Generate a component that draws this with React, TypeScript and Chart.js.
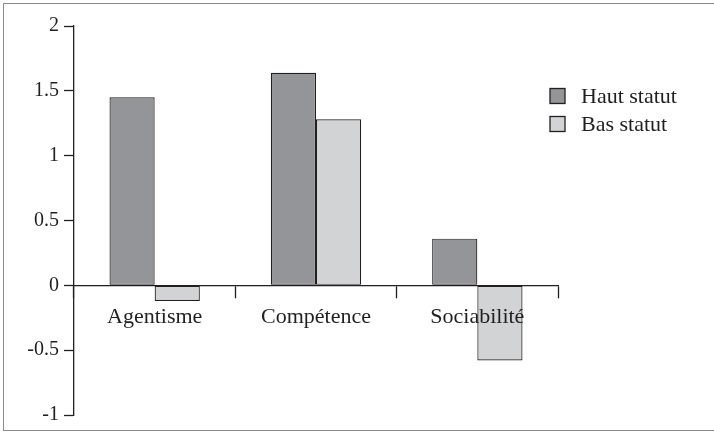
import React, { useEffect, useRef } from "react";
import { Chart, registerables } from "chart.js";

Chart.register(...registerables);

const categories = ["Agentisme", "Compétence", "Sociabilité"];
const hautStatut = [1.45, 1.64, 0.36];
const basStatut = [-0.12, 1.28, -0.58];
const seriesNames = ["Haut statut", "Bas statut"];
const yTicks = [-1, -0.5, 0, 0.5, 1, 1.5, 2];

const FONT = "'Liberation Serif', 'DejaVu Serif', serif";
const INK = "#231f20";

const legendPlugin = {
  id: "customLegend",
  afterDraw(chart: any) {
    const ctx = chart.ctx;
    ctx.save();
    const x0 = 550;
    const ys = [96, 124];
    chart.data.datasets.forEach((ds: any, i: number) => {
      const y = ys[i];
      ctx.fillStyle = ds.backgroundColor;
      ctx.fillRect(x0, y - 7.5, 15, 15);
      ctx.strokeStyle = INK;
      ctx.lineWidth = 1.3;
      ctx.strokeRect(x0, y - 7.5, 15, 15);
      ctx.fillStyle = INK;
      ctx.font = `22px ${FONT}`;
      ctx.textBaseline = "middle";
      ctx.textAlign = "left";
      ctx.fillText(ds.label, 581, y + 1);
    });
    ctx.restore();
  },
};

export default function App() {
  const ref = useRef<HTMLCanvasElement>(null);
  useEffect(() => {
    if (!ref.current) return;
    const chart = new Chart(ref.current, {
      type: "bar",
      data: {
        labels: categories,
        datasets: [
          {
            label: seriesNames[0],
            data: hautStatut,
            backgroundColor: "#939598",
            borderColor: INK,
            borderWidth: 1.2,
            borderSkipped: false,
          },
          {
            label: seriesNames[1],
            data: basStatut,
            backgroundColor: "#d1d3d4",
            borderColor: INK,
            borderWidth: 1.2,
            borderSkipped: false,
          },
        ],
      },
      options: {
        animation: false,
        responsive: false,
        devicePixelRatio: 1,
        layout: { padding: { left: 0, right: 156, top: 26, bottom: 12 } },
        datasets: { bar: { categoryPercentage: 0.56, barPercentage: 1 } },
        plugins: { legend: { display: false }, tooltip: { enabled: false } },
        scales: {
          x: {
            position: { y: 0 } as any,
            offset: true,
            grid: {
              offset: true,
              drawOnChartArea: false,
              drawTicks: true,
              tickLength: 12,
              tickWidth: 1.3,
              tickColor: INK,
              z: 1,
            },
            border: { display: true, color: INK, width: 1.3, z: 1 },
            ticks: {
              z: 1,
              padding: 7,
              color: INK,
              font: { family: FONT, size: 22 },
              maxRotation: 0,
              autoSkip: false,
            },
          },
          y: {
            min: -1,
            max: 2,
            afterFit(scale: any) {
              scale.width = 74;
            },
            afterBuildTicks(scale: any) {
              scale.ticks = yTicks.map((v) => ({ value: v }));
            },
            grid: {
              drawOnChartArea: false,
              drawTicks: true,
              tickLength: 10,
              tickWidth: 1.3,
              tickColor: INK,
            },
            border: { display: true, color: INK, width: 1.3 },
            ticks: {
              padding: 5,
              color: INK,
              font: { family: FONT, size: 20 },
              callback: (v: any) => String(v),
            },
          },
        },
      },
      plugins: [legendPlugin],
    });
    return () => chart.destroy();
  }, []);
  return (
    <div style={{ position: "fixed", left: 0, top: 0, width: 714, height: 432, background: "#fff", overflow: "hidden" }}>
      <canvas ref={ref} width={714} height={432} style={{ position: "absolute", left: 0, top: 0 }} />
      <div
        style={{
          position: "absolute",
          left: 3,
          top: 3,
          width: 730,
          height: 428,
          borderLeft: "1.5px solid #8a8a8a",
          borderTop: "1.5px solid #8a8a8a",
          borderBottom: "1.5px solid #8a8a8a",
          boxSizing: "border-box",
          pointerEvents: "none",
        }}
      />
    </div>
  );
}
